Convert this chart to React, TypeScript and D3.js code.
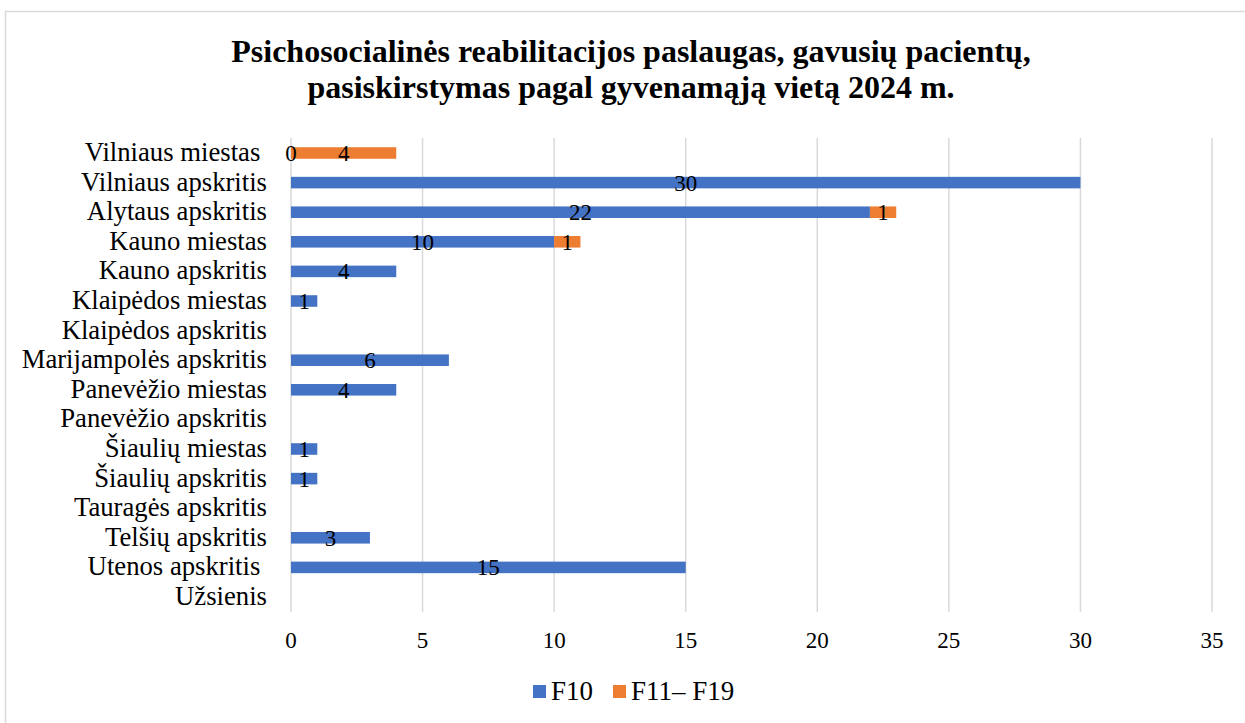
import React from "react";
import * as d3 from "d3";

const categories = [
  "Vilniaus miestas ",
  "Vilniaus apskritis",
  "Alytaus apskritis",
  "Kauno miestas",
  "Kauno apskritis",
  "Klaipėdos miestas",
  "Klaipėdos apskritis",
  "Marijampolės apskritis",
  "Panevėžio miestas",
  "Panevėžio apskritis",
  "Šiaulių miestas",
  "Šiaulių apskritis",
  "Tauragės apskritis",
  "Telšių apskritis",
  "Utenos apskritis ",
  "Užsienis",
];

// null = no value shown
const f10: (number | null)[] = [0, 30, 22, 10, 4, 1, null, 6, 4, null, 1, 1, null, 3, 15, null];
const f11f19: (number | null)[] = [4, null, 1, 1, null, null, null, null, null, null, null, null, null, null, null, null];

const seriesNames = ["F10", "F11– F19"];
const seriesColors = ["#4472C4", "#ED7D31"];
const xTicks = [0, 5, 10, 15, 20, 25, 30, 35];

const titleLines = [
  "Psichosocialinės reabilitacijos paslaugas, gavusių pacientų,",
  "pasiskirstymas pagal gyvenamąją vietą 2024 m.",
];

const FONT = "'Liberation Serif', 'Times New Roman', serif";

export default function App() {
  const W = 1245;
  const H = 723;
  const x = d3.scaleLinear().domain([0, 35]).range([291, 1212]);
  const y = d3
    .scaleBand<string>()
    .domain(categories)
    .range([138.2, 611.8])
    .paddingInner(0.61)
    .paddingOuter(0.305);
  const bw = y.bandwidth();

  const bars: React.ReactNode[] = [];
  const labels: React.ReactNode[] = [];
  categories.forEach((c, i) => {
    const a = f10[i];
    const b = f11f19[i];
    const y0 = y(c)!;
    const cy = y0 + bw / 2;
    const start = a ?? 0;
    if (a !== null) {
      if (a > 0)
        bars.push(
          <rect key={"a" + i} x={x(0)} y={y0} width={x(a) - x(0)} height={bw} fill={seriesColors[0]} />
        );
      labels.push(
        <text key={"la" + i} x={(x(0) + x(a)) / 2} y={cy + 8} textAnchor="middle" fontSize={23}>
          {a}
        </text>
      );
    }
    if (b !== null) {
      bars.push(
        <rect key={"b" + i} x={x(start)} y={y0} width={x(start + b) - x(start)} height={bw} fill={seriesColors[1]} />
      );
      labels.push(
        <text key={"lb" + i} x={(x(start) + x(start + b)) / 2} y={cy + 8} textAnchor="middle" fontSize={23}>
          {b}
        </text>
      );
    }
  });

  return (
    <svg
      width={W}
      height={H}
      style={{ position: "absolute", left: 0, top: 0, background: "#fff" }}
      fontFamily={FONT}
    >
      <rect x={5.5} y={11.5} width={W + 20} height={H + 20} fill="#fff" stroke="#d9d9d9" strokeWidth={1.5} />
      {titleLines.map((t, i) => (
        <text key={t} x={631} y={62 + i * 36} textAnchor="middle" fontSize={32} fontWeight="bold">
          {t}
        </text>
      ))}
      {xTicks.map((t) => (
        <line key={"g" + t} x1={x(t)} x2={x(t)} y1={138} y2={612} stroke="#d9d9d9" strokeWidth={1.5} />
      ))}
      {xTicks.map((t) => (
        <text key={"t" + t} x={x(t)} y={648} textAnchor="middle" fontSize={23}>
          {t}
        </text>
      ))}
      {categories.map((c) => (
        <text
          key={c}
          x={267}
          y={y(c)! + bw / 2 + 8}
          textAnchor="end"
          fontSize={26.7}
          style={{ whiteSpace: "pre" }}
        >
          {c}
        </text>
      ))}
      {bars}
      {labels}
      <rect x={533} y={685} width={13} height={13} fill={seriesColors[0]} />
      <text x={551} y={700} fontSize={27}>{seriesNames[0]}</text>
      <rect x={613} y={685} width={13} height={13} fill={seriesColors[1]} />
      <text x={631} y={700} fontSize={27} style={{ whiteSpace: "pre" }}>{seriesNames[1]}</text>
    </svg>
  );
}
